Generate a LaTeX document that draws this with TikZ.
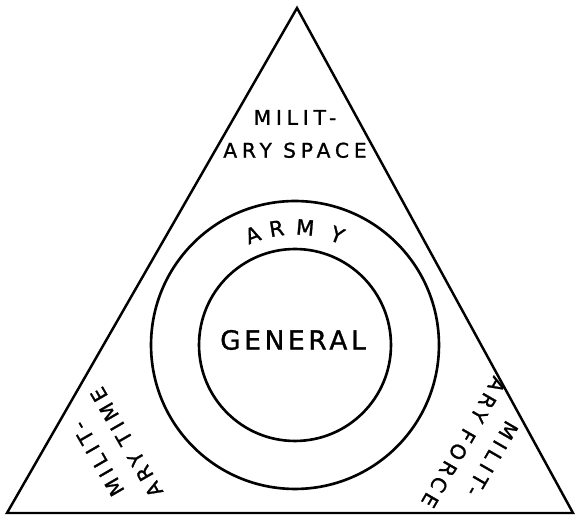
\documentclass[tikz,border=0pt]{standalone}
\usepackage{fontspec}
\newfontfamily\lettering[LetterSpace=24, FakeBold=1.2]{DejaVu Sans}
\newfontfamily\bigletters[LetterSpace=14, FakeBold=1.2]{DejaVu Sans}
\usetikzlibrary{positioning}

\begin{document}
\begin{tikzpicture}[
    x=0.02cm, y=0.02cm,
    side/.style={line width=1.4pt, line join=miter},
    ring/.style={circle, draw, line width=1.5pt, inner sep=0pt},
    corner/.style={font=\lettering\fontsize{11.5}{18.7}\selectfont, align=center, inner sep=0pt},
    armyletter/.style={font=\lettering\fontsize{12}{14}\selectfont, inner sep=0pt},
    centre/.style={font=\bigletters\fontsize{15}{17}\selectfont, inner sep=0pt}
]
\useasboundingbox (0,0) rectangle (576,517);

% Triangle
\coordinate (apex) at (297,509);
\coordinate (left) at (7,4);
\coordinate (right) at (573,4);
\draw[side] (apex) -- (left) -- (right) -- cycle;

% Rings
\coordinate (c) at (295,172);
\node[ring, minimum size=5.76cm] (army) at (c) {};
\node[ring, minimum size=3.84cm] (general) at (c) {};
\node[centre] (general-label) at (293,177) {GENERAL};

% ARMY along the outer ring
\foreach \ch/\ang in {A/111, R/99, M/85, Y/69}
    \node[armyletter, rotate=\ang-90] (army-\ch) at ([shift={(\ang:118)}]c) {\ch};

% Corner labels
\node[corner] (space) at ([shift={(90:211)}]c) {MILIT-\\ARY SPACE};
\node[corner, rotate=120] (time) at ([shift={(210:211)}]c) {MILIT-\\ARY TIME};
\node[corner, rotate=-120] (force) at ([shift={(-30:211)}]c) {MILIT-\\ARY FORCE};

\end{tikzpicture}
\end{document}
